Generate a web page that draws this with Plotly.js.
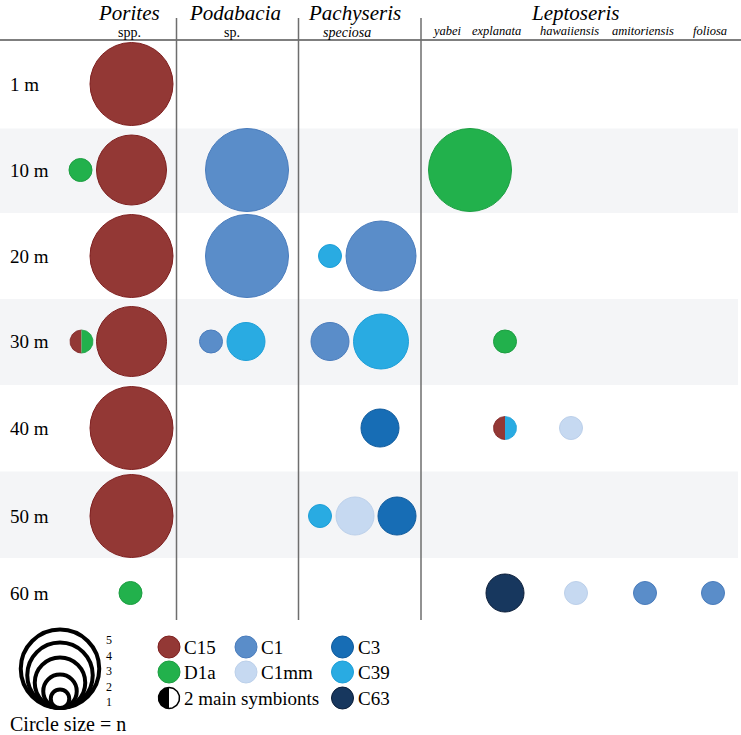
<!DOCTYPE html>
<html>
<head>
<meta charset="utf-8">
<script src="https://cdn.plot.ly/plotly-3.0.1.min.js"></script>
<style>
  body { margin: 0; background: #fff; }
  #chart { width: 741px; height: 735px; }
</style>
</head>
<body>
<div id="chart"></div>
<script>
// rows and columns of the table
const depths = ['1 m', '10 m', '20 m', '30 m', '40 m', '50 m', '60 m'];
const taxa = ['Porites', 'Podabacia', 'Pachyseris', 'L. yabei', 'L. explanata',
  'L. hawaiiensis', 'L. amitoriensis', 'L. foliosa'];
const genera = ['Porites', 'Podabacia', 'Pachyseris', 'Leptoseris'];
const epithets = ['spp.', 'sp.', 'speciosa'];
const leptoSpecies = ['yabei', 'explanata', 'hawaiiensis', 'amitoriensis', 'foliosa'];
const symbionts = ['C15', 'D1a', 'C1', 'C1mm', 'C3', 'C39', 'C63'];

// one entry per circle (two symbionts joined by '/' = split circle), n = sample count
const obsDepth = ['1 m', '10 m', '10 m', '10 m', '10 m', '20 m', '20 m', '20 m', '20 m',
  '30 m', '30 m', '30 m', '30 m', '30 m', '30 m', '30 m',
  '40 m', '40 m', '40 m', '40 m', '50 m', '50 m', '50 m', '50 m',
  '60 m', '60 m', '60 m', '60 m', '60 m'];
const obsTaxon = ['Porites', 'Porites', 'Porites', 'Podabacia', 'L. yabei',
  'Porites', 'Podabacia', 'Pachyseris', 'Pachyseris',
  'Porites', 'Porites', 'Podabacia', 'Podabacia', 'Pachyseris', 'Pachyseris', 'L. explanata',
  'Porites', 'Pachyseris', 'L. explanata', 'L. hawaiiensis',
  'Porites', 'Pachyseris', 'Pachyseris', 'Pachyseris',
  'Porites', 'L. explanata', 'L. hawaiiensis', 'L. amitoriensis', 'L. foliosa'];
const obsSymb = ['C15', 'D1a', 'C15', 'C1', 'D1a',
  'C15', 'C1', 'C39', 'C1',
  'C15/D1a', 'C15', 'C1', 'C39', 'C1', 'C39', 'D1a',
  'C15', 'C3', 'C15/C39', 'C1mm',
  'C15', 'C39', 'C1mm', 'C3',
  'D1a', 'C63', 'C1mm', 'C1', 'C1'];
const obsN = [5, 1, 4, 5, 5,
  5, 5, 1, 4,
  1, 4, 1, 2, 2, 3, 1,
  5, 2, 1, 1,
  5, 1, 2, 2,
  1, 2, 1, 1, 1];

// placement (plot units are pixels)
const rowY = [84, 170, 256, 341.5, 428, 516, 593];
const colX = [131.5, 247, 381, 470, 505, 573, 645, 713];
const obsShift = [0, -51, 0, 0, 0,
  0, 0, -51, 0,
  -50, 0, -36, -1, -51, 0, 0,
  0, -1, 0, -2,
  0, -61, -26, 16,
  -1, 0, 3, 0, 0];
const bandRows = ['10 m', '30 m', '50 m'];
const bandEdges = [[128.5, 213], [299, 385], [471.5, 558]];
const dividerX = [176.5, 298.5, 421];

const diam = [23, 38, 55, 70, 83];
const symbColor = {C15: '#933835', D1a: '#22b14c', C1: '#5a8dc9', C1mm: '#c6d9f1',
  C3: '#176db5', C39: '#29abe2', C63: '#17375e'};
const symbEdge = {C15: '#7e1f1f', D1a: '#1d9e42', C1: '#4a7cbc', C1mm: '#bcd0ea',
  C3: '#0f5a9c', C39: '#1d9fd8', C63: '#0b1d38'};
const serif = 'Liberation Serif, Times New Roman, serif';

function posX(i) { return colX[taxa.indexOf(obsTaxon[i])] + obsShift[i]; }
function posY(i) { return rowY[depths.indexOf(obsDepth[i])]; }

function halfDisc(cx, cy, r, side, fill, edge, lw) {
  const xs = [], ys = [];
  for (let k = 0; k <= 40; k++) {
    const a = -Math.PI / 2 + Math.PI * k / 40;
    xs.push(cx + side * r * Math.cos(a));
    ys.push(cy + r * Math.sin(a));
  }
  return {x: xs, y: ys, type: 'scatter', mode: 'lines', fill: 'toself',
    fillcolor: fill, line: {color: edge, width: lw}, hoverinfo: 'skip', showlegend: false};
}

const traces = [];

// full circles, one trace per symbiont
symbionts.forEach(s => {
  const idx = obsSymb.map((v, i) => v === s ? i : -1).filter(i => i >= 0);
  if (!idx.length) return;
  traces.push({
    x: idx.map(posX), y: idx.map(posY),
    type: 'scatter', mode: 'markers', cliponaxis: false, showlegend: false,
    marker: {size: idx.map(i => diam[obsN[i] - 1]), color: symbColor[s],
      line: {color: symbEdge[s], width: 1}, opacity: 1}
  });
});

// split circles
obsSymb.forEach((s, i) => {
  if (s.indexOf('/') < 0) return;
  const [a, b] = s.split('/');
  const r = diam[obsN[i] - 1] / 2;
  traces.push(halfDisc(posX(i), posY(i), r, -1, symbColor[a], symbEdge[a], 0.8));
  traces.push(halfDisc(posX(i), posY(i), r, 1, symbColor[b], symbEdge[b], 0.8));
});

// size key: concentric rings sitting on one baseline, largest drawn first
const keyN = [5, 4, 3, 2, 1];
const keyX = 60, keyBase = 710, keyLw = 4;
keyN.forEach(n => {
  const s = diam[n - 1] - 4.5;
  traces.push({
    x: [keyX], y: [keyBase - s / 2 - keyLw / 2],
    type: 'scatter', mode: 'markers', cliponaxis: false, showlegend: false,
    marker: {size: s, color: '#fff', opacity: 1, line: {color: '#000', width: keyLw}}
  });
});

// colour key
const keyItems = ['C15', 'C1', 'C3', 'D1a', 'C1mm', 'C39', 'split', 'C63'];
const keyLabels = ['C15', 'C1', 'C3', 'D1a', 'C1mm', 'C39', '2 main symbionts', 'C63'];
const keyColX = [169, 246, 342.5, 169, 246, 342.5, 169, 342.5];
const keyRowY = [647, 647, 647, 672, 672, 672, 698, 698];
keyItems.forEach((s, i) => {
  if (s === 'split') {
    traces.push(halfDisc(keyColX[i], keyRowY[i], 10.5, -1, '#000', '#000', 1.5));
    traces.push(halfDisc(keyColX[i], keyRowY[i], 10.5, 1, '#fff', '#000', 1.5));
  } else {
    traces.push({x: [keyColX[i]], y: [keyRowY[i]], type: 'scatter', mode: 'markers',
      cliponaxis: false, showlegend: false,
      marker: {size: 22, color: symbColor[s], line: {color: symbEdge[s], width: 1}}});
  }
});

const shapes = [];
bandRows.forEach((d, i) => {
  shapes.push({type: 'rect', xref: 'x', yref: 'y', x0: 0, x1: 738,
    y0: bandEdges[i][0], y1: bandEdges[i][1], fillcolor: '#f4f5f7',
    line: {width: 0}, layer: 'below'});
});
shapes.push({type: 'line', xref: 'x', yref: 'y', x0: 0, x1: 741, y0: 40, y1: 40,
  line: {color: '#555', width: 1.5}, layer: 'below'});
dividerX.forEach(x => shapes.push({type: 'line', xref: 'x', yref: 'y', x0: x, x1: x,
  y0: 18, y1: 620, line: {color: '#6e6e6e', width: 1.5}, layer: 'below'}));

const annotations = [];
function txt(x, y, text, size, anchor) {
  annotations.push({x: x, y: y, xref: 'x', yref: 'y', text: text, showarrow: false,
    xanchor: anchor || 'center', yanchor: 'middle',
    font: {family: serif, size: size, color: '#000'}});
}
const genusX = [129, 235, 354, 575];
genera.forEach((g, i) => txt(genusX[i], 13, '<i>' + g + '</i>', 21));
const epiX = [129, 232, 347];
epithets.forEach((e, i) => txt(epiX[i], 32, i === 2 ? '<i>' + e + '</i>' : e, 14));
const leptoX = [447, 496, 569, 643, 710];
leptoSpecies.forEach((e, i) => txt(leptoX[i], 31, '<i>' + e + '</i>', 12.5));
depths.forEach((d, i) => txt(8, rowY[i], d, 19, 'left'));
keyLabels.forEach((l, i) => txt(keyColX[i] + 13, keyRowY[i], l, 19, 'left'));
[1, 2, 3, 4, 5].forEach(n => txt(109, 702 - (n - 1) * 15.5, String(n), 12));
txt(8, 724, 'Circle size = n', 20, 'left');

const layout = {
  width: 741, height: 735,
  margin: {l: 0, r: 0, t: 0, b: 0},
  paper_bgcolor: '#fff', plot_bgcolor: '#fff',
  xaxis: {range: [0, 741], visible: false, fixedrange: true},
  yaxis: {range: [735, 0], visible: false, fixedrange: true},
  shapes: shapes,
  annotations: annotations,
  showlegend: false
};

Plotly.newPlot('chart', traces, layout, {staticPlot: true, displayModeBar: false});
</script>
</body>
</html>
